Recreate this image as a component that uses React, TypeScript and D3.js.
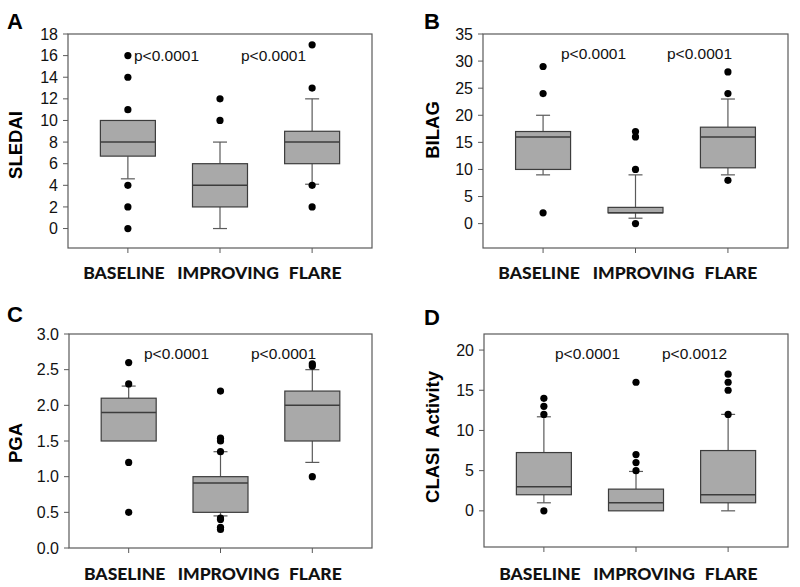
import React from "react";
import * as d3 from "d3";

const categories = ["BASELINE", "IMPROVING", "FLARE"];

// Panel A – SLEDAI
const sledaiQ1 = [6.7, 2, 6];
const sledaiMedian = [8, 4, 8];
const sledaiQ3 = [10, 6, 9];
const sledaiWhiskerLow = [4.6, 0, 4.1];
const sledaiWhiskerHigh = [10, 8, 12];
const sledaiOutliers = [[16, 14, 11, 4, 2, 0], [12, 10], [17, 13, 4, 2]];
const sledaiTicks = [0, 2, 4, 6, 8, 10, 12, 14, 16, 18];
const sledaiP = ["p<0.0001", "p<0.0001"];

// Panel B – BILAG
const bilagQ1 = [10, 2, 10.3];
const bilagMedian = [16, 2, 16];
const bilagQ3 = [17, 3, 17.8];
const bilagWhiskerLow = [9, 1, 9];
const bilagWhiskerHigh = [20, 9, 23];
const bilagOutliers = [[29, 24, 2], [17, 16, 10, 0], [28, 24, 8]];
const bilagTicks = [0, 5, 10, 15, 20, 25, 30, 35];
const bilagP = ["p<0.0001", "p<0.0001"];

// Panel C – PGA
const pgaQ1 = [1.5, 0.5, 1.5];
const pgaMedian = [1.9, 0.91, 2.0];
const pgaQ3 = [2.1, 1.0, 2.2];
const pgaWhiskerLow = [1.5, 0.45, 1.2];
const pgaWhiskerHigh = [2.27, 1.35, 2.5];
const pgaOutliers = [[2.6, 2.3, 1.2, 0.5], [2.2, 1.54, 1.5, 1.35, 0.42, 0.4, 0.29, 0.26], [2.58, 2.55, 1.0]];
const pgaTicks = [0, 0.5, 1.0, 1.5, 2.0, 2.5, 3.0];
const pgaP = ["p<0.0001", "p<0.0001"];

// Panel D – CLASI Activity
const clasiQ1 = [2, 0, 1];
const clasiMedian = [3, 1, 2];
const clasiQ3 = [7.25, 2.7, 7.5];
const clasiWhiskerLow = [1, 0, 0];
const clasiWhiskerHigh = [11.7, 4.9, 12];
const clasiOutliers = [[14, 13, 12, 0], [16, 7, 6, 5], [17, 16, 15, 12]];
const clasiTicks = [0, 5, 10, 15, 20];
const clasiP = ["p<0.0001", "p<0.0012"];

type PanelProps = {
  letter: string;
  title: string;
  q1: number[];
  median: number[];
  q3: number[];
  wLow: number[];
  wHigh: number[];
  outliers: number[][];
  ticks: number[];
  tickFmt: (v: number) => string;
  pvals: string[];
  domain: [number, number];
  frame: { x0: number; x1: number; y0: number; y1: number };
  letterPos: [number, number];
  titlePos: [number, number];
  pPos: [number, number];
  pY: number;
  catY: number;
};

const ARIAL = "'Liberation Sans', Arial, sans-serif";
const FRAME = "#5a5a5a";
const BOX_FILL = "#a9a9a9";
const BOX_STROKE = "#3c3c3c";

function Panel(p: PanelProps) {
  const { x0, x1, y0, y1 } = p.frame;
  const x = d3.scalePoint<string>().domain(categories).range([x0, x1]).padding(0.65);
  const y = d3.scaleLinear().domain(p.domain).range([y1, y0]);
  const bw = 55;
  const cap = 14;
  const catOffsets = [-4, 8, 3];
  return (
    <g>
      <text x={p.letterPos[0]} y={p.letterPos[1]} fontFamily={ARIAL} fontWeight="bold" fontSize={22} fill="#000">
        {p.letter}
      </text>
      <text
        transform={`translate(${p.titlePos[0]},${p.titlePos[1]}) rotate(-90)`}
        textAnchor="middle"
        fontFamily={ARIAL}
        fontWeight="bold"
        fontSize={18.5}
        fill="#000"
        style={{ whiteSpace: "pre" }}
      >
        {p.title}
      </text>
      <rect x={x0} y={y0} width={x1 - x0} height={y1 - y0} fill="none" stroke={FRAME} strokeWidth={1.2} />
      {p.ticks.map((t) => (
        <g key={t}>
          <line x1={x0 - 5} x2={x0} y1={y(t)} y2={y(t)} stroke={FRAME} strokeWidth={1} />
          <text x={x0 - 10} y={y(t)} dy="0.35em" textAnchor="end" fontFamily={ARIAL} fontSize={16} fill="#111">
            {p.tickFmt(t)}
          </text>
        </g>
      ))}
      {categories.map((c, i) => (
        <g key={c}>
          <line x1={x(c)!} x2={x(c)!} y1={y1} y2={y1 + 5} stroke={FRAME} strokeWidth={1} />
          <text
            x={x(c)! + catOffsets[i]}
            y={p.catY}
            textAnchor="middle"
            fontFamily="Lato, 'Open Sans', sans-serif"
            fontWeight="900"
            fontSize={17.5}
            fill="#111"
          >
            {c}
          </text>
        </g>
      ))}
      {categories.map((c, i) => {
        const cx = x(c)!;
        return (
          <g key={"b" + c}>
            <line x1={cx} x2={cx} y1={y(p.q3[i])} y2={y(p.wHigh[i])} stroke={FRAME} strokeWidth={1.2} />
            <line x1={cx} x2={cx} y1={y(p.q1[i])} y2={y(p.wLow[i])} stroke={FRAME} strokeWidth={1.2} />
            {p.wHigh[i] > p.q3[i] && (
              <line x1={cx - cap / 2} x2={cx + cap / 2} y1={y(p.wHigh[i])} y2={y(p.wHigh[i])} stroke={FRAME} strokeWidth={1.2} />
            )}
            {p.wLow[i] < p.q1[i] && (
              <line x1={cx - cap / 2} x2={cx + cap / 2} y1={y(p.wLow[i])} y2={y(p.wLow[i])} stroke={FRAME} strokeWidth={1.2} />
            )}
            <rect
              x={cx - bw / 2}
              y={y(p.q3[i])}
              width={bw}
              height={y(p.q1[i]) - y(p.q3[i])}
              fill={BOX_FILL}
              stroke={BOX_STROKE}
              strokeWidth={1.2}
            />
            <line x1={cx - bw / 2} x2={cx + bw / 2} y1={y(p.median[i])} y2={y(p.median[i])} stroke={BOX_STROKE} strokeWidth={1.5} />
            {p.outliers[i].map((v, j) => (
              <circle key={j} cx={cx} cy={y(v)} r={3.6} fill="#000" />
            ))}
          </g>
        );
      })}
      {p.pvals.map((t, i) => (
        <text key={i} x={x0 + p.pPos[i]} y={y0 + p.pY} fontFamily={ARIAL} fontSize={15.5} fill="#111">
          {t}
        </text>
      ))}
    </g>
  );
}

const intFmt = (v: number) => d3.format("d")(v);
const oneDec = (v: number) => d3.format(".1f")(v);

export default function App() {
  return (
    <svg
      width={800}
      height={587}
      viewBox="0 0 800 587"
      style={{ position: "absolute", left: 0, top: 0, background: "#fff" }}
    >
      <rect width={800} height={587} fill="#fff" />
      <Panel
        letter="A"
        title="SLEDAI"
        q1={sledaiQ1}
        median={sledaiMedian}
        q3={sledaiQ3}
        wLow={sledaiWhiskerLow}
        wHigh={sledaiWhiskerHigh}
        outliers={sledaiOutliers}
        ticks={sledaiTicks}
        tickFmt={intFmt}
        pvals={sledaiP}
        domain={[-1.8, 18]}
        frame={{ x0: 68, x1: 372, y0: 34, y1: 248 }}
        letterPos={[7, 29]}
        titlePos={[22, 145]}
        pPos={[66, 173]}
        pY={27}
        catY={279}
      />
      <Panel
        letter="B"
        title="BILAG"
        q1={bilagQ1}
        median={bilagMedian}
        q3={bilagQ3}
        wLow={bilagWhiskerLow}
        wHigh={bilagWhiskerHigh}
        outliers={bilagOutliers}
        ticks={bilagTicks}
        tickFmt={intFmt}
        pvals={bilagP}
        domain={[-4.5, 35]}
        frame={{ x0: 483, x1: 788, y0: 34, y1: 248 }}
        letterPos={[424, 29]}
        titlePos={[439, 130]}
        pPos={[78, 184]}
        pY={25}
        catY={279}
      />
      <Panel
        letter="C"
        title="PGA"
        q1={pgaQ1}
        median={pgaMedian}
        q3={pgaQ3}
        wLow={pgaWhiskerLow}
        wHigh={pgaWhiskerHigh}
        outliers={pgaOutliers}
        ticks={pgaTicks}
        tickFmt={oneDec}
        pvals={pgaP}
        domain={[0, 3]}
        frame={{ x0: 69, x1: 372, y0: 334, y1: 548 }}
        letterPos={[7, 322]}
        titlePos={[22, 443]}
        pPos={[75, 182]}
        pY={25}
        catY={580}
      />
      <Panel
        letter="D"
        title="CLASI  Activity"
        q1={clasiQ1}
        median={clasiMedian}
        q3={clasiQ3}
        wLow={clasiWhiskerLow}
        wHigh={clasiWhiskerHigh}
        outliers={clasiOutliers}
        ticks={clasiTicks}
        tickFmt={intFmt}
        pvals={clasiP}
        domain={[-4.5, 22]}
        frame={{ x0: 484, x1: 788, y0: 334, y1: 547 }}
        letterPos={[424, 325]}
        titlePos={[439, 437]}
        pPos={[71, 178]}
        pY={25}
        catY={580}
      />
    </svg>
  );
}
